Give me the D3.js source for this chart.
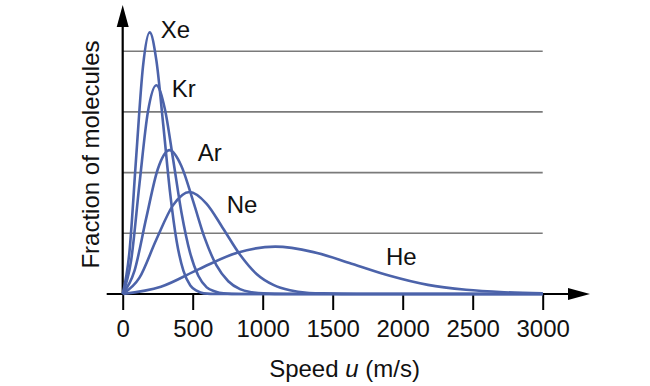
<!DOCTYPE html>
<html>
<head>
<meta charset="utf-8">
<script src="https://cdn.jsdelivr.net/npm/d3@7"></script>
<style>
  body { margin:0; background:#fff; }
  text { font-family: "Liberation Sans", Arial, sans-serif; fill:#111; }
</style>
</head>
<body>
<div class="canvas"></div>
<script>
// speeds (m/s) and relative fraction, per gas
const xeSpeed = [0, 48, 97, 145, 193, 241, 290, 338, 386, 434, 483, 531, 579, 676, 800, 3000]
const xeFrac  = [0, 0.69, 2.28, 3.75, 4.31, 3.84, 2.78, 1.68, 0.86, 0.38, 0.14, 0.05, 0.01, 0, 0, 0]
const krSpeed = [0, 60, 120, 180, 240, 300, 360, 420, 480, 540, 600, 660, 720, 840, 3000]
const krFrac  = [0, 0.55, 1.82, 3.00, 3.44, 3.06, 2.22, 1.34, 0.69, 0.30, 0.11, 0.04, 0.01, 0, 0]
const arSpeed = [0, 84, 168, 251, 335, 419, 503, 586, 670, 754, 838, 921, 1005, 1170, 3000]
const arFrac  = [0, 0.38, 1.25, 2.06, 2.37, 2.11, 1.53, 0.92, 0.47, 0.21, 0.08, 0.03, 0.01, 0, 0]
const neSpeed = [0, 120, 239, 359, 478, 598, 717, 837, 956, 1076, 1195, 1315, 1434, 1670, 3000]
const neFrac  = [0, 0.27, 0.89, 1.46, 1.68, 1.49, 1.08, 0.65, 0.33, 0.15, 0.06, 0.02, 0.01, 0, 0]
const heSpeed = [0, 273, 545, 818, 1090, 1363, 1635, 1908, 2180, 2453, 2725, 3000]
const heFrac  = [0, 0.12, 0.41, 0.68, 0.78, 0.69, 0.50, 0.30, 0.15, 0.07, 0.03, 0.01]

const gases = ["Xe", "Kr", "Ar", "Ne", "He"]
const speedTicks = [0, 500, 1000, 1500, 2000, 2500, 3000]
const gridValues = [1, 2, 3, 4]
// where each name sits, in data units (speed, fraction)
const labelSpeed = [272, 350, 536, 743, 1880]
const labelFrac  = [4.21, 3.24, 2.19, 1.33, 0.48]

const series = [
  {name:"Xe", speed:xeSpeed, frac:xeFrac},
  {name:"Kr", speed:krSpeed, frac:krFrac},
  {name:"Ar", speed:arSpeed, frac:arFrac},
  {name:"Ne", speed:neSpeed, frac:neFrac},
  {name:"He", speed:heSpeed, frac:heFrac}
]

const dim = { width:650, height:386 }
const blue = "#4c63aa"
const svg = d3.select(".canvas").append("svg").attr("width",dim.width).attr("height",dim.height)

const x = d3.scaleLinear().domain([0,3000]).range([122.7,542.7])
const y = d3.scaleLinear().domain([0,4.8]).range([294,294-4.8*60.7])

// grid
svg.selectAll("line.grid").data(gridValues).enter().append("line")
   .attr("class","grid")
   .attr("x1",x(0)).attr("x2",x(3000))
   .attr("y1",d=>y(d)).attr("y2",d=>y(d))
   .attr("stroke","#7a7a7a").attr("stroke-width",1.6)

// x axis
const xAxis = d3.axisBottom(x).tickValues(speedTicks).tickSize(16).tickPadding(10).tickFormat(d3.format("d"))
const xg = svg.append("g").attr("transform",`translate(0,${y(0)})`).call(xAxis)
xg.select(".domain").remove()
xg.selectAll(".tick line").attr("stroke","#000").attr("stroke-width",2)
xg.selectAll(".tick text").attr("font-size",24).attr("font-family","Liberation Sans, Arial, sans-serif").attr("fill","#111")

svg.append("line").attr("x1",106.7).attr("x2",572).attr("y1",y(0)).attr("y2",y(0))
   .attr("stroke","#000").attr("stroke-width",2.2)
svg.append("path").attr("d",`M568,${y(0)-6} L590,${y(0)} L568,${y(0)+6} Z`).attr("fill","#000")

// y axis
svg.append("line").attr("x1",x(0)).attr("x2",x(0)).attr("y1",y(0)+1).attr("y2",24)
   .attr("stroke","#000").attr("stroke-width",2.2)
svg.append("path").attr("d",`M${x(0)-6},27 L${x(0)},5 L${x(0)+6},27 Z`).attr("fill","#000")

// curves
const line = d3.line()
   .x(d=>x(d[0])).y(d=>y(d[1]))
   .curve(d3.curveMonotoneX)

svg.selectAll("path.curve").data(series).enter().append("path")
   .attr("class","curve")
   .attr("d",s=>line(s.speed.map((v,i)=>[v,s.frac[i]])))
   .attr("fill","none").attr("stroke",blue).attr("stroke-width",2.6)

// gas names
svg.selectAll("text.gas").data(gases).enter().append("text")
   .attr("class","gas")
   .attr("x",(d,i)=>x(labelSpeed[i])).attr("y",(d,i)=>y(labelFrac[i]))
   .attr("font-size",24)
   .text(d=>d)

// axis titles
const xt = svg.append("text").attr("x",344.5).attr("y",377).attr("text-anchor","middle").attr("font-size",24)
xt.append("tspan").text("Speed ")
xt.append("tspan").attr("font-style","italic").text("u")
xt.append("tspan").text(" (m/s)")

svg.append("text").attr("transform","translate(99,154.5) rotate(-90)")
   .attr("text-anchor","middle").attr("font-size",24)
   .text("Fraction of molecules")
</script>
</body>
</html>
